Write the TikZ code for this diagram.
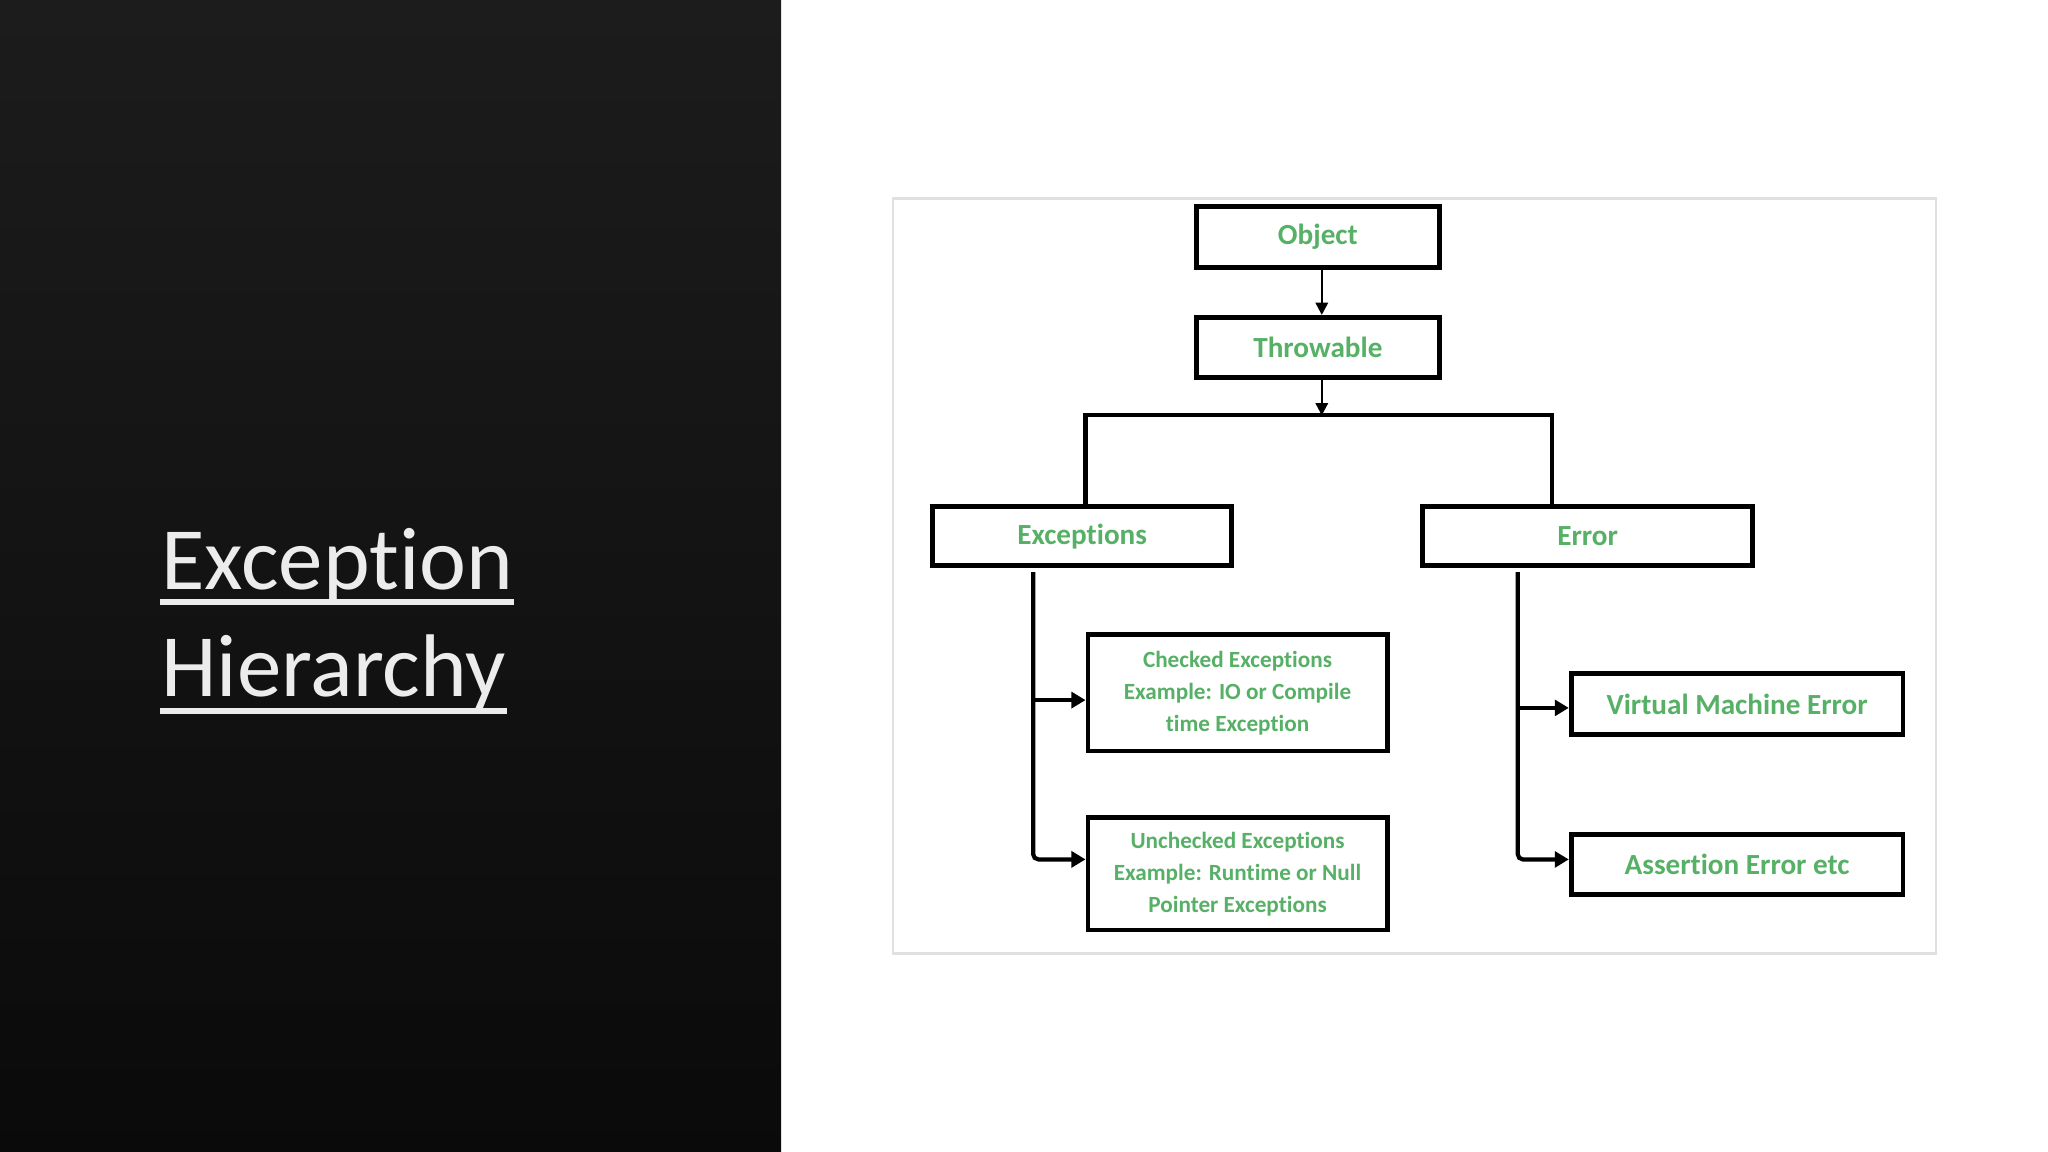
\documentclass[tikz,border=0pt]{standalone}
\usepackage{fontspec}
\setmainfont{Carlito}[RawFeature={-liga;-clig;-dlig}]
\usetikzlibrary{arrows.meta}
\definecolor{txtgreen}{RGB}{86,176,102}
\definecolor{titlewhite}{RGB}{236,236,236}
\def\px{0.013061cm}
\begin{document}
\begin{tikzpicture}[x=0.013061cm,y=-0.013061cm,
  box/.style={draw=black,line width=1.4pt,fill=white,inner sep=0pt,text=txtgreen,
    font=\bfseries\fontsize{8.3}{10}\selectfont,align=center},
  smalltxt/.style={font=\bfseries\fontsize{6.6}{9.1}\selectfont},
  thinarrow/.style={draw=black,line width=0.7pt,-{Triangle[length=3.5pt,width=3.5pt]}},
  link/.style={draw=black,line width=1.2pt},
  linkarrow/.style={link,rounded corners=1.5pt,-{Triangle[length=4pt,width=4.5pt]}}]
\useasboundingbox (0,0) rectangle (1568,882);
\fill[white] (0,0) rectangle (1568,882);
\shade[top color=black!89, bottom color=black!96] (0,0) rectangle (598,882);

% title
\node[anchor=base west,inner sep=0pt,text=titlewhite,font=\fontsize{25.3}{29}\selectfont] (t1) at (123,451) {Exception};
\node[anchor=base west,inner sep=0pt,text=titlewhite,font=\fontsize{25.3}{29}\selectfont] (t2) at (123,533) {Hierarchy};
\draw[titlewhite,line width=1.7pt] (122.5,461) -- (393.5,461);
\draw[titlewhite,line width=1.7pt] (122.5,544) -- (388.5,544);

% frame
\draw[black!12,line width=0.6pt] (684,152) rectangle (1482,730);

% boxes
\node[box,minimum width=186*\px,minimum height=47*\px] (obj) at (1009,181.5) {Object};
\node[box,minimum width=186*\px,minimum height=46*\px] (thr) at (1009,266) {Throwable};
\node[box,minimum width=229*\px,minimum height=45*\px] (exc) at (828.5,410.5) {Exceptions};
\node[box,minimum width=253*\px,minimum height=45*\px] (err) at (1215.5,410.5) {Error};
\node[box,smalltxt,minimum width=229*\px,minimum height=89*\px] (chk) at (947.5,530.5) {Checked Exceptions\\Example: IO or Compile\\time Exception};
\node[box,smalltxt,minimum width=229*\px,minimum height=86*\px] (unch) at (947.5,669) {Unchecked Exceptions\\Example: Runtime or Null\\Pointer Exceptions};
\node[box,minimum width=254*\px,minimum height=46*\px] (vme) at (1330,539) {Virtual Machine Error};
\node[box,minimum width=254*\px,minimum height=46*\px] (asr) at (1330,662) {Assertion Error etc};

% connectors
\coordinate (bar) at (1012,318);
\coordinate (barL) at (831,318);
\coordinate (barR) at (1188,318);
\coordinate (tE) at (791,438);
\coordinate (tR) at (1162,438);
\draw[thinarrow] ([xshift=3*\px]obj.south) -- ([xshift=3*\px]thr.north);
\draw[thinarrow] ([xshift=3*\px]thr.south) -- (bar);
\draw[link] (exc.north -| barL) -- (barL) -- (barR) -- (err.north -| barR);
\draw[linkarrow] (tE) |- ([yshift=0.144cm]unch.west);
\draw[linkarrow] ([yshift=-0.072cm]chk.west -| tE) -- ([yshift=-0.072cm]chk.west);
\draw[linkarrow] (tR) |- ([yshift=0.052cm]asr.west);
\draw[linkarrow] ([yshift=-0.039cm]vme.west -| tR) -- ([yshift=-0.039cm]vme.west);
\end{tikzpicture}
\end{document}
